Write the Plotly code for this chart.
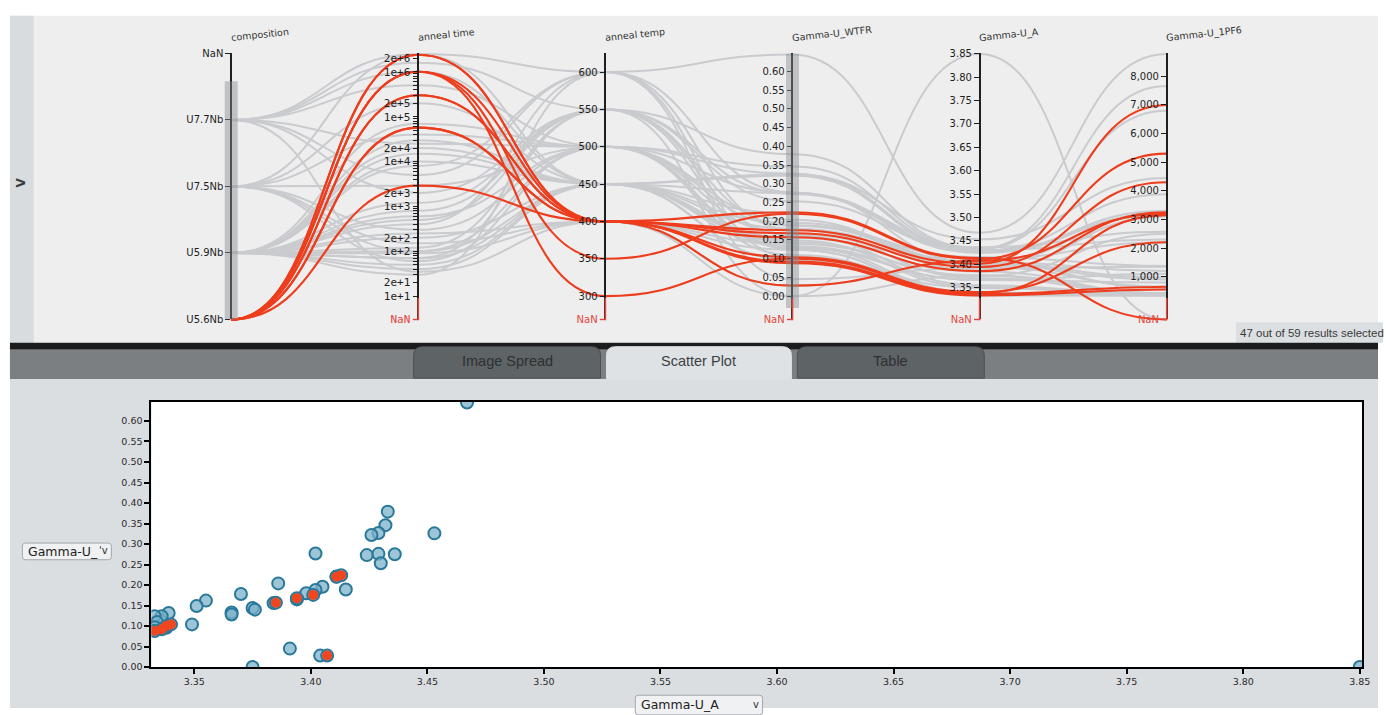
import math
import plotly.graph_objects as go

W, H = 1386, 715

# ---------------- data ----------------
DIMENSIONS = ["composition", "anneal time", "anneal temp",
              "Gamma-U_WTFR", "Gamma-U_A", "Gamma-U_1PF6"]
COMPOSITION_LEVELS = ["U5.6Nb", "U5.9Nb", "U7.5Nb", "U7.7Nb", "NaN"]

composition = [
    "U7.7Nb", "U7.7Nb", "U7.7Nb", "U5.9Nb", "U7.5Nb", "U5.9Nb", "U7.7Nb", "U5.9Nb",
    "U7.5Nb", "U5.9Nb", "U7.7Nb", "U5.9Nb", "U7.5Nb", "U5.9Nb", "U7.5Nb", "U5.9Nb",
    "U5.9Nb", "U7.5Nb", "U5.9Nb", "U5.9Nb", "U5.9Nb", "U5.9Nb", "U7.7Nb", "U5.9Nb",
    "U7.5Nb", "U5.9Nb", "U5.9Nb", "U7.7Nb", "U5.9Nb", "U5.9Nb", "U7.5Nb", "U5.9Nb",
    "U5.9Nb", "U7.5Nb", "U5.9Nb", "U7.7Nb", "U5.9Nb",
    "U5.6Nb", "U5.6Nb", "U5.6Nb", "U5.6Nb", "U5.6Nb",
    "U5.6Nb", "U5.6Nb", "U5.6Nb", "U5.6Nb", "U5.6Nb",
]
anneal_time = [
    2.5e6, 1.6e6, 5.0e5, 3.0e4, 4.0e4, 1.0e4, 5.0e3, 500, 2.9e3, 200, 2.0e3, 100,
    2.4e6, 7.0e4, 100, 70, 1.5e4, 60, 40, 400, 120, 70, 2.5e4, 600, 2.0e5, 90, 30,
    1.0e6, 250, 1200, 300, 50, 8000, 150, 800, 35, 2.0e4,
    2.4e6, 2.4e6, 1.0e6, 1.0e6, 1.0e6, 3.0e5, 3.0e5, 5.7e4, 5.7e4, 2.9e3,
]
anneal_temp = [
    600, 550, 500, 450, 500, 450, 600, 550, 500, 450, 550, 500, 450, 500, 450, 550,
    450, 500, 450, 600, 550, 450, 500, 500, 450, 400, 600, 450, 400, 550, 500, 450,
    600, 400, 550, 400, 450,
    400, 400, 350, 300, 400, 400, 400, 400, 400, 400,
]
gamma_wtfr = [
    0.645, 0.379, 0.346, 0.326, 0.327, 0.322, 0.277, 0.273, 0.276, 0.275, 0.253,
    0.204, 0.221, 0.189, 0.196, 0.188, 0.180, 0.165, 0.156, 0.178, 0.162, 0.149,
    0.133, 0.128, 0.144, 0.140, 0.104, 0.132, 0.124, 0.124, 0.110, 0.096, 0.045,
    0.028, 0.000, 0.000, 0.097,
    0.224, 0.176, 0.220, 0.100, 0.168, 0.157, 0.092, 0.104, 0.088, 0.028,
]
gamma_a = [
    3.467, 3.433, 3.432, 3.453, 3.429, 3.426, 3.402, 3.424, 3.429, 3.436, 3.430,
    3.386, 3.411, 3.415, 3.405, 3.402, 3.398, 3.394, 3.384, 3.370, 3.355, 3.351,
    3.366, 3.366, 3.375, 3.376, 3.349, 3.339, 3.336, 3.333, 3.334, 3.338, 3.391,
    3.404, 3.375, 3.850, 3.333,
    3.413, 3.401, 3.411, 3.338, 3.394, 3.385, 3.336, 3.340, 3.333, 3.407,
]
gamma_1pf6 = [
    8780, 7660, 6800, 4450, 3880, 3300, 3250, 3200, 3150, 2570, 2300, 3100, 2200,
    1370, 1200, 970, 900, 650, 420, 380, 360, 350, 1100, 800, 420, 400, 380, 360,
    350, 340, 345, 355, 1350, 600, 2500, None, 370,
    None, 7000, 5300, 3150, 4300, 3250, 650, 2200, 550, 3200,
]
HIGHLIGHT_COMPOSITION = "U5.6Nb"
SELECTED_TEXT = "47 out of 59 results selected"
TAB_LABELS = ["Image Spread", "Scatter Plot", "Table"]

# axis scale settings
TIME_LOG_RANGE = (1.0, 6.41)
TEMP_RANGE = (300, 625)
WTFR_RANGE = (0.0, 0.648)
A_RANGE = (3.3315, 3.851)
PF6_RANGE = (320, 8800)
SC_X_RANGE = (3.3316, 3.851)
SC_Y_RANGE = (0.0, 0.6464)

# ---------------- layout geometry (pixels) ----------------
def fx(p):
    return p / W


def fy(p):
    return 1 - p / H


AX_X0, AX_DX = 232.5, 188.2
TOP, BOT, NAN_Y = 48.3, 295.5, 319.3
F = (NAN_Y - BOT) / (BOT - TOP)
NAN_N = -F
LINES_PX = (324.0, 44.0)
NORM_RANGE = (-(LINES_PX[0] - BOT) / (BOT - TOP), 1 + (TOP - LINES_PX[1]) / (BOT - TOP))

RED = "#ee3d1d"
GRAY = "#c9cbce"
NANRED = "#e2463a"
CURVE = 0.5   # horizontal offset of the bezier control points (fraction of axis spacing)


def is_nan(v):
    return v is None or (isinstance(v, float) and math.isnan(v))


def lin(lo, hi):
    return lambda v: NAN_N if is_nan(v) else (v - lo) / (hi - lo)


def logn(lo, hi):
    return lambda v: NAN_N if is_nan(v) else (math.log10(v) - lo) / (hi - lo)


def comp_n(v):
    c = COMPOSITION_LEVELS.index("NaN" if is_nan(v) else v)
    return NAN_N + c * (1 - NAN_N) / (len(COMPOSITION_LEVELS) - 1)


scales = [comp_n, logn(*TIME_LOG_RANGE), lin(*TEMP_RANGE), lin(*WTFR_RANGE),
          lin(*A_RANGE), lin(*PF6_RANGE)]
columns = [composition, anneal_time, anneal_temp, gamma_wtfr, gamma_a, gamma_1pf6]
n_rec = len(composition)
highlight = [c == HIGHLIGHT_COMPOSITION for c in composition]


def record_curve(i):
    """Bezier path through the record's value on every dimension axis (axis units of x/y)."""
    ys = [sc(col[i]) for col, sc in zip(columns, scales)]
    d = f"M 0,{ys[0]:.5f}"
    for k in range(1, len(ys)):
        d += (f" C {k - 1 + CURVE:.4f},{ys[k - 1]:.5f} {k - CURVE:.4f},{ys[k]:.5f}"
              f" {k},{ys[k]:.5f}")
    return d


fig = go.Figure()

# invisible carriers of each dimension's values on its own axis
comp_codes = [COMPOSITION_LEVELS.index(c) for c in composition]
dim_values = [comp_codes, anneal_time, anneal_temp, gamma_wtfr, gamma_a, gamma_1pf6]
for k, vals in enumerate(dim_values):
    fig.add_trace(go.Scatter(
        x=[k] * len(vals), y=[None if is_nan(v) else v for v in vals],
        xaxis="x", yaxis=f"y{k + 2}", mode="markers",
        marker=dict(opacity=0, size=1), hoverinfo="skip", showlegend=False))
fig.add_trace(go.Scatter(x=[0], y=[0], xaxis="x", yaxis="y", mode="markers",
                         marker=dict(opacity=0, size=1), hoverinfo="skip", showlegend=False))

# scatter plot: Gamma-U_A vs Gamma-U_WTFR
fig.add_trace(go.Scatter(
    x=gamma_a, y=gamma_wtfr, mode="markers", xaxis="x2", yaxis="y8",
    marker=dict(size=12, color="rgba(124,178,203,0.75)",
                line=dict(color="#2a7899", width=2)),
    hoverinfo="skip", showlegend=False))
fig.add_trace(go.Scatter(
    x=[a for a, h in zip(gamma_a, highlight) if h],
    y=[w for w, h in zip(gamma_wtfr, highlight) if h],
    mode="markers", xaxis="x2", yaxis="y8",
    marker=dict(size=10, color="#f0461f", line=dict(width=0)),
    hoverinfo="skip", showlegend=False))

# ---------------- axes ----------------
NAN_TEXT = f'<span style="color:{NANRED}">NaN</span>'
tick_font = dict(family="DejaVu Sans", size=10, color="#1e1e1e")
axis_common = dict(anchor="free", side="left", showline=True, linecolor="#1f1f1f",
                   linewidth=1.5, ticks="outside", ticklen=5, tickwidth=1.3,
                   tickcolor="#1f1f1f", showgrid=False, zeroline=False,
                   tickmode="array", tickfont=tick_font, fixedrange=True,
                   domain=[fy(NAN_Y), fy(TOP)])


def ext_lo(lo, hi):
    return lo - (hi - lo) * F


layout_axes = {}
layout_axes["yaxis2"] = dict(axis_common, position=fx(AX_X0), range=[0, 4],
                             tickvals=list(range(len(COMPOSITION_LEVELS))),
                             ticktext=COMPOSITION_LEVELS)
lo, hi = TIME_LOG_RANGE
tv, tt = [], []
for e in range(1, 7):
    for m in range(1, 10):
        val = m * 10 ** e
        if math.log10(val) <= hi + 1e-9:
            tv.append(val)
            tt.append(f"{m}e+{e}" if m in (1, 2) else "")
tv.append(10 ** ext_lo(lo, hi)); tt.append(NAN_TEXT)
layout_axes["yaxis3"] = dict(axis_common, position=fx(AX_X0 + AX_DX), type="log",
                             range=[ext_lo(lo, hi), hi], tickvals=tv, ticktext=tt,
                             tickfont=dict(family="DejaVu Sans Mono", size=11, color="#1e1e1e"))


def numeric_axis(k, rng, ticks, fmt):
    lo, hi = rng
    tvals = list(ticks) + [ext_lo(lo, hi)]
    ttext = [fmt(t) for t in ticks] + [NAN_TEXT]
    return dict(axis_common, position=fx(AX_X0 + k * AX_DX), range=[ext_lo(lo, hi), hi],
                tickvals=tvals, ticktext=ttext)


layout_axes["yaxis4"] = numeric_axis(2, TEMP_RANGE, range(300, 601, 50), lambda t: f"{t}")
layout_axes["yaxis5"] = numeric_axis(3, WTFR_RANGE, [i * 0.05 for i in range(13)],
                                     lambda t: f"{t:.2f}")
layout_axes["yaxis6"] = numeric_axis(4, A_RANGE, [3.35 + i * 0.05 for i in range(11)],
                                     lambda t: f"{t:.2f}")
layout_axes["yaxis7"] = numeric_axis(5, PF6_RANGE, range(1000, 8001, 1000),
                                     lambda t: f"{t:,}")

sc_font = dict(family="DejaVu Sans", size=9.5, color="#2a2a2a")
layout_axes["xaxis2"] = dict(domain=[fx(152.3), fx(1370)], anchor="y8", range=list(SC_X_RANGE),
                             showline=True, mirror=True, linecolor="black", linewidth=2,
                             ticks="outside", ticklen=5, tickwidth=1.5, tickcolor="black",
                             showgrid=False, zeroline=False, tickmode="array",
                             tickvals=[3.35 + i * 0.05 for i in range(11)],
                             ticktext=[f"{3.35 + i * 0.05:.2f}" for i in range(11)],
                             tickfont=sc_font, fixedrange=True)
layout_axes["yaxis8"] = dict(domain=[fy(673.3), fy(403.3)], anchor="x2", range=list(SC_Y_RANGE),
                             showline=True, mirror=True, linecolor="black", linewidth=2,
                             ticks="outside", ticklen=5, tickwidth=1.5, tickcolor="black",
                             showgrid=False, zeroline=False, tickmode="array",
                             tickvals=[i * 0.05 for i in range(13)],
                             ticktext=[f"{i * 0.05:.2f}" for i in range(13)],
                             tickfont=sc_font, fixedrange=True)

# ---------------- decorations ----------------
shapes = []


def rect(x0, y0, x1, y1, color, layer="below", line=None):
    shapes.append(dict(type="rect", xref="paper", yref="paper", x0=fx(x0), x1=fx(x1),
                       y0=fy(y1), y1=fy(y0), fillcolor=color, layer=layer,
                       line=line or dict(width=0)))


def rounded_path(x0, y0, x1, y1, r, bottom_round=False):
    X = lambda p: f"{fx(p):.6f}"
    Y = lambda p: f"{fy(p):.6f}"
    if bottom_round:
        return (f"M {X(x0 + r)},{Y(y1)} Q {X(x0)},{Y(y1)} {X(x0)},{Y(y1 - r)} "
                f"L {X(x0)},{Y(y0 + r)} Q {X(x0)},{Y(y0)} {X(x0 + r)},{Y(y0)} "
                f"L {X(x1 - r)},{Y(y0)} Q {X(x1)},{Y(y0)} {X(x1)},{Y(y0 + r)} "
                f"L {X(x1)},{Y(y1 - r)} Q {X(x1)},{Y(y1)} {X(x1 - r)},{Y(y1)} Z")
    return (f"M {X(x0)},{Y(y1)} L {X(x0)},{Y(y0 + r)} Q {X(x0)},{Y(y0)} {X(x0 + r)},{Y(y0)} "
            f"L {X(x1 - r)},{Y(y0)} Q {X(x1)},{Y(y0)} {X(x1)},{Y(y0 + r)} L {X(x1)},{Y(y1)} Z")


# panels
rect(10, 10, W, 343, "#eeeeee")
rect(10, 10, 34, 343, "#d9dcdf")
rect(1243, 322, W + 5, 343, "#dcdfe1")
rect(10, 343, W, 350, "#1b1c1d")
rect(10, 350, W, 380, "#7b7f82")
rect(10, 380, W, H, "#dbdee1")
rect(152.3, 403.3, 1370, 673.3, "white")
tab_x = [(416, 604), (610, 796), (802, 990)]
for j, (a, b) in enumerate(tab_x):
    active = j == 1
    shapes.append(dict(type="path", xref="paper", yref="paper", layer="below",
                       path=rounded_path(a, 347, b, 380 if active else 379, 9),
                       fillcolor="#dfe2e4" if active else "#5e6366",
                       line=dict(color="#dfe2e4" if active else "#4b4f52", width=1)))
shapes.append(dict(type="path", xref="paper", yref="paper", layer="below",
                   path=rounded_path(22.5, 547, 112, 564, 3, bottom_round=True),
                   fillcolor="#f0f1f2", line=dict(color="#a4a7aa", width=1)))
shapes.append(dict(type="path", xref="paper", yref="paper", layer="below",
                   path=rounded_path(639, 702, 767, 722, 3, bottom_round=True),
                   fillcolor="#f0f1f2", line=dict(color="#a4a7aa", width=1)))

# parallel-coordinate polylines: gray records first, highlighted (red) records on top
for want_red in (False, True):
    for i in range(n_rec):
        if highlight[i] != want_red:
            continue
        shapes.append(dict(type="path", xref="x", yref="y", layer="below",
                           path=record_curve(i), fillcolor="rgba(0,0,0,0)",
                           line=dict(color=RED if want_red else GRAY,
                                     width=2.1 if want_red else 2.0)))

# brushes (constraint ranges) drawn on the dimension axes
shapes.append(dict(type="rect", xref="paper", yref="y2", x0=fx(AX_X0 - 6.5), x1=fx(AX_X0 + 6.5),
                   y0=0, y1=3.58, fillcolor="rgba(135,140,145,0.45)", line=dict(width=0),
                   layer="above"))
wx = AX_X0 + 3 * AX_DX
shapes.append(dict(type="rect", xref="paper", yref="y5", x0=fx(wx - 6.5), x1=fx(wx + 6.5),
                   y0=-0.032, y1=WTFR_RANGE[1], fillcolor="rgba(135,140,145,0.45)",
                   line=dict(width=0), layer="above"))

for k in range(1, 6):
    ax = AX_X0 + k * AX_DX
    shapes.append(dict(type="line", xref="paper", yref="paper", x0=fx(ax), x1=fx(ax),
                       y0=fy(BOT + 2), y1=fy(NAN_Y + 0.7), line=dict(color=NANRED, width=1.6),
                       layer="above"))
    shapes.append(dict(type="line", xref="paper", yref="paper", x0=fx(ax - 5.5), x1=fx(ax),
                       y0=fy(NAN_Y), y1=fy(NAN_Y), line=dict(color=NANRED, width=1.4),
                       layer="above"))

annotations = []
for k, name in enumerate(DIMENSIONS):
    annotations.append(dict(text=name, x=fx(AX_X0 + k * AX_DX - 3), y=fy(40), xref="paper",
                            yref="paper", xanchor="left", yanchor="bottom", showarrow=False,
                            textangle=-6, font=dict(family="DejaVu Sans", size=9.5,
                                                    color="#333333")))
annotations.append(dict(text="<b>V</b>", x=fx(21), y=fy(180), xref="paper", yref="paper",
                        xanchor="center", yanchor="middle", showarrow=False, textangle=-90,
                        font=dict(family="DejaVu Sans", size=12, color="#3a3a3a")))
annotations.append(dict(text=SELECTED_TEXT, x=fx(1245), y=fy(333), xref="paper", yref="paper",
                        xanchor="left", yanchor="middle", showarrow=False,
                        font=dict(family="Liberation Sans", size=11.5, color="#3a3a3a")))
for j, (a, b) in enumerate(tab_x):
    annotations.append(dict(text=TAB_LABELS[j], x=fx((a + b) / 2), y=fy(362), xref="paper",
                            yref="paper", xanchor="center", yanchor="middle", showarrow=False,
                            font=dict(family="Liberation Sans", size=14.5,
                                      color="#3d4144" if j == 1 else "#2d3032")))
annotations.append(dict(text="Gamma-U_", x=fx(26), y=fy(556), xref="paper", yref="paper",
                        xanchor="left", yanchor="middle", showarrow=False,
                        font=dict(family="DejaVu Sans", size=12.5, color="#222222")))
annotations.append(dict(text="'v", x=fx(98), y=fy(555), xref="paper", yref="paper",
                        xanchor="left", yanchor="middle", showarrow=False,
                        font=dict(family="DejaVu Sans", size=10, color="#333")))
annotations.append(dict(text="Gamma-U_A", x=fx(643), y=fy(711), xref="paper", yref="paper",
                        xanchor="left", yanchor="middle", showarrow=False,
                        font=dict(family="DejaVu Sans", size=12.5, color="#222222")))
annotations.append(dict(text="v", x=fx(760), y=fy(711), xref="paper", yref="paper",
                        xanchor="center", yanchor="middle", showarrow=False,
                        font=dict(family="DejaVu Sans", size=10, color="#333")))

fig.update_layout(
    width=W, height=H, margin=dict(l=0, r=0, t=0, b=0, pad=0),
    paper_bgcolor="white", plot_bgcolor="rgba(0,0,0,0)", showlegend=False,
    xaxis=dict(domain=[0, 1], range=[-AX_X0 / AX_DX, (W - AX_X0) / AX_DX], visible=False,
               fixedrange=True, anchor="y"),
    yaxis=dict(domain=[fy(LINES_PX[0]), fy(LINES_PX[1])], range=list(NORM_RANGE),
               visible=False, fixedrange=True, anchor="x"),
    shapes=shapes, annotations=annotations,
    **layout_axes,
)

fig.write_html("out.html")
